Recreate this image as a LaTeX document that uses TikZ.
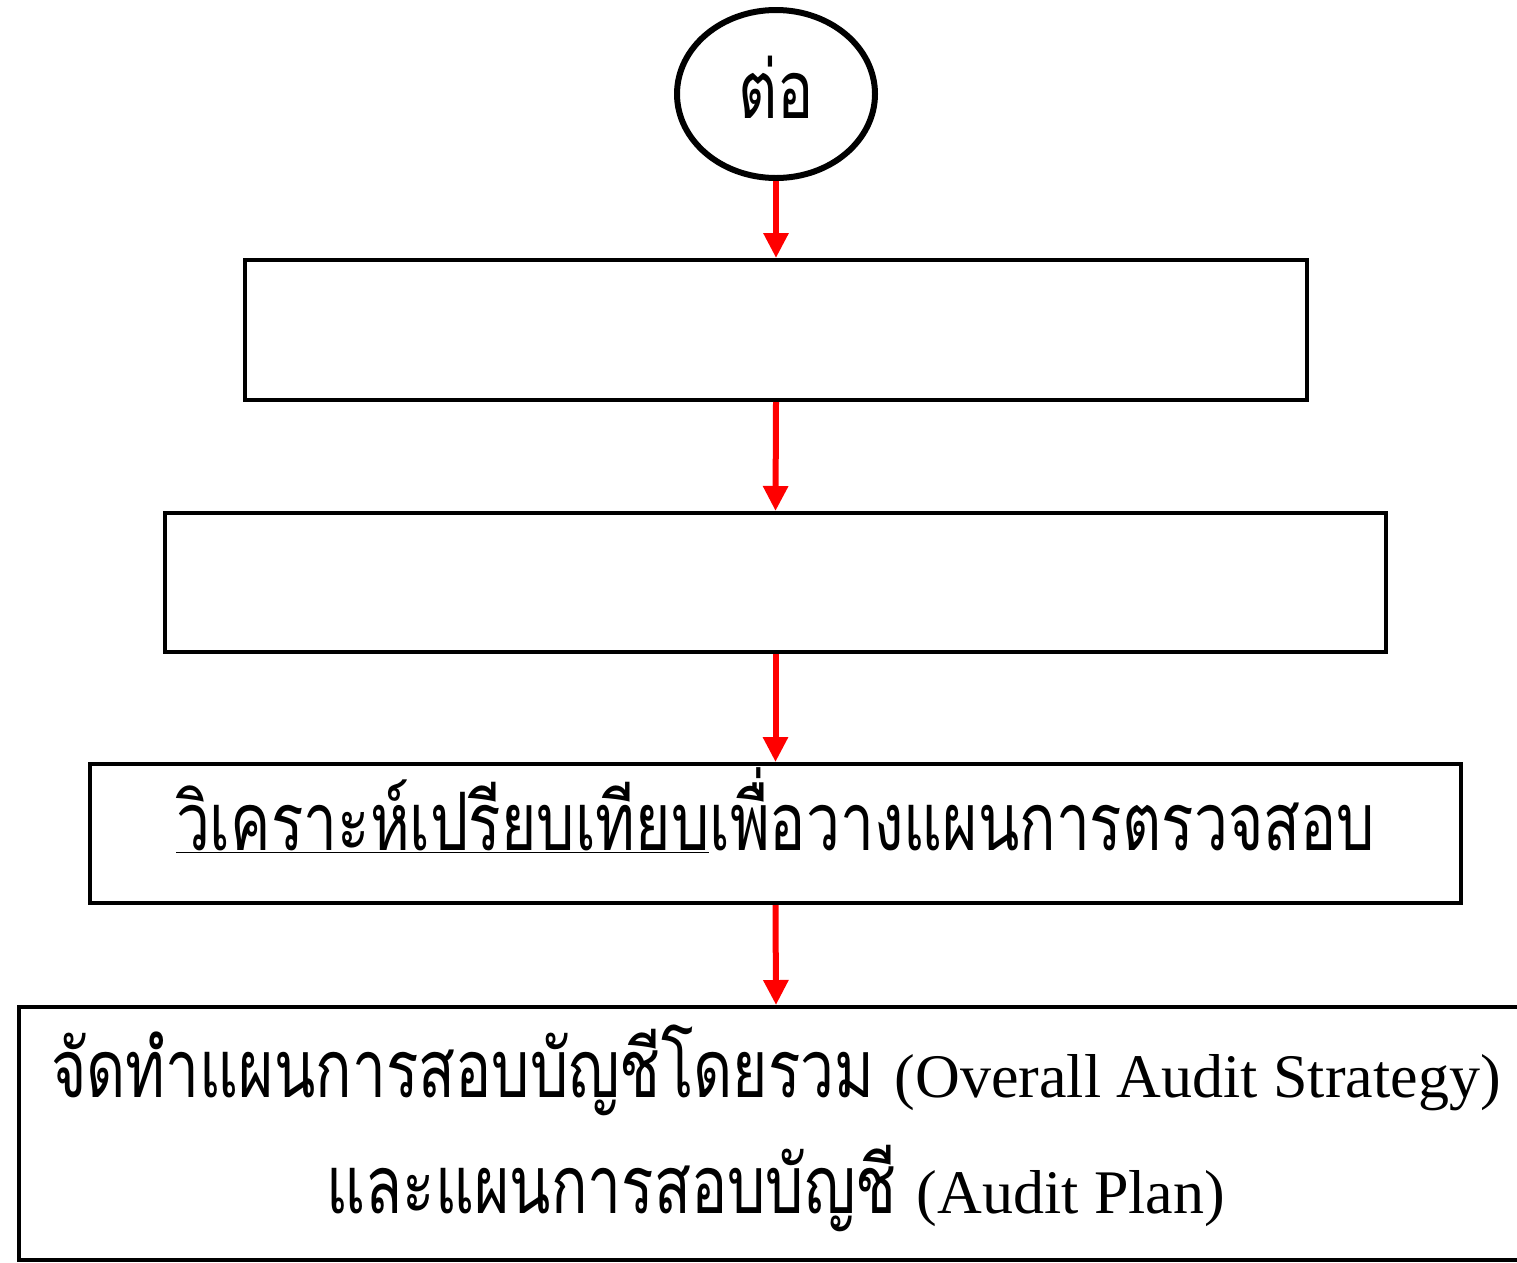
\documentclass[tikz,border=0pt]{standalone}
\usepackage{fontspec}
\setmainfont{Liberation Serif}
\newfontfamily\thai[Script=Thai,Scale=1.3,FakeStretch=0.75]{Loma}
\usetikzlibrary{arrows.meta,shapes.geometric}
\begin{document}
\begin{tikzpicture}[x=1pt,y=-1pt,
  frame/.style={draw=black,line width=4pt,rectangle,inner sep=0pt},
  flow/.style={draw=red,line width=6pt,-{Triangle[width=24pt,length=25pt]}},
  lbl/.style={inner sep=0pt,anchor=base,font=\fontsize{62}{74}\selectfont}]
\useasboundingbox (0,0) rectangle (1517,1262);
\node[ellipse,draw=black,line width=6pt,minimum width=198pt,minimum height=168pt,inner sep=0pt] (start) at (776,94) {};
\node[lbl] (starttxt) at (776,118) {\thai ต่อ};
\node[frame,minimum width=1062pt,minimum height=140pt] (b1) at (776,330) {};
\node[frame,minimum width=1221pt,minimum height=139pt] (b2) at (775.5,582.5) {};
\node[frame,minimum width=1371pt,minimum height=139pt] (b3) at (775.5,833.5) {};
\node[lbl] (t3) at (775.5,850) {\underline{\thai วิเคราะห์เปรียบเทียบ}\thai เพื่อวางแผนการตรวจสอบ};
\node[frame,minimum width=1514pt,minimum height=253pt] (b4) at (776,1133.5) {};
\node[lbl] (t4a) at (776,1097) {\thai จัดทำแผนการสอบบัญชีโดยรวม \rmfamily(Overall Audit Strategy)};
\node[lbl] (t4b) at (776,1213) {\thai และแผนการสอบบัญชี \rmfamily(Audit Plan)};
\draw[flow] (start.south) -- (b1.north);
\draw[flow] (b1.south) -- (b2.north);
\draw[flow] (b2.south) -- (b3.north);
\draw[flow] (b3.south) -- (b4.north);
\end{tikzpicture}
\end{document}
